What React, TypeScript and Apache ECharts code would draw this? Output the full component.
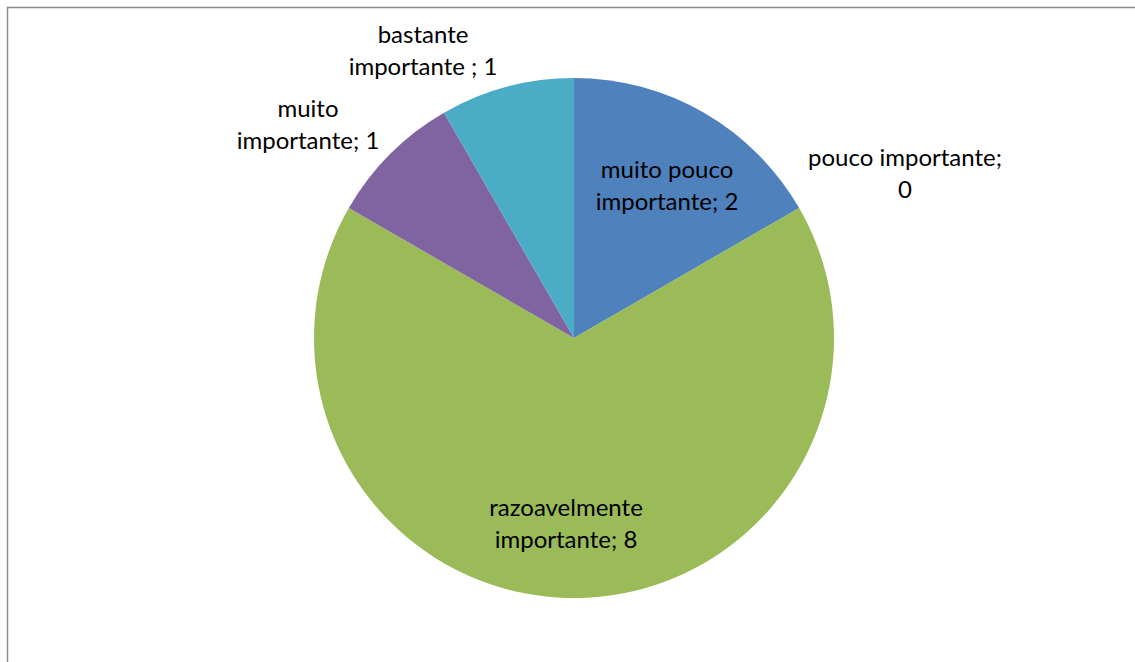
import React, { useEffect, useRef } from "react";
import * as echarts from "echarts";

const categories = [
  "muito pouco importante",
  "pouco importante",
  "razoavelmente importante",
  "muito importante",
  "bastante importante ",
];
const values = [2, 0, 8, 1, 1];
const colors = ["#4F81BD", "#C0504D", "#9BBB59", "#8064A2", "#4BACC6"];
// label texts as displayed (line breaks as in the reference)
const labelTexts = [
  "muito pouco\nimportante; 2",
  "pouco importante;\n0",
  "razoavelmente\nimportante; 8",
  "muito\nimportante; 1",
  "bastante\nimportante ; 1",
];
// label anchor positions (layout only)
const labelPos = [
  [667, 184],
  [905, 172],
  [566, 522],
  [308, 123],
  [423, 49],
];

export default function App() {
  const ref = useRef<HTMLDivElement>(null);
  useEffect(() => {
    const chart = echarts.init(ref.current!, null, { renderer: "svg" });
    chart.setOption({
      animation: false,
      backgroundColor: "#ffffff",
      graphic: [
        {
          type: "rect",
          shape: { x: 7.5, y: 7.5, width: 1140, height: 670 },
          style: { fill: "none", stroke: "#8c8c8c", lineWidth: 1.5 },
          z: 100,
        },
      ],
      series: [
        {
          type: "pie",
          center: [574, 338],
          radius: 260,
          startAngle: 90,
          clockwise: true,
          avoidLabelOverlap: false,
          stillShowZeroSum: true,
          itemStyle: { borderWidth: 0 },
          emphasis: { disabled: true },
          label: {
            show: true,
            position: "inside",
            color: "#000000",
            fontFamily: "Lato",
            fontSize: 24,
            lineHeight: 32,
            align: "center",
            formatter: (p: any) => labelTexts[p.dataIndex],
          },
          labelLine: { show: false },
          labelLayout: (p: any) => ({
            x: labelPos[p.dataIndex][0],
            y: labelPos[p.dataIndex][1],
            align: "center",
            verticalAlign: "middle",
          }),
          data: categories.map((c, i) => ({
            name: c,
            value: values[i],
            itemStyle: { color: colors[i] },
          })),
        },
      ],
    });
    return () => chart.dispose();
  }, []);
  return (
    <div
      ref={ref}
      style={{ position: "absolute", left: 0, top: 0, width: 1135, height: 662 }}
    />
  );
}
